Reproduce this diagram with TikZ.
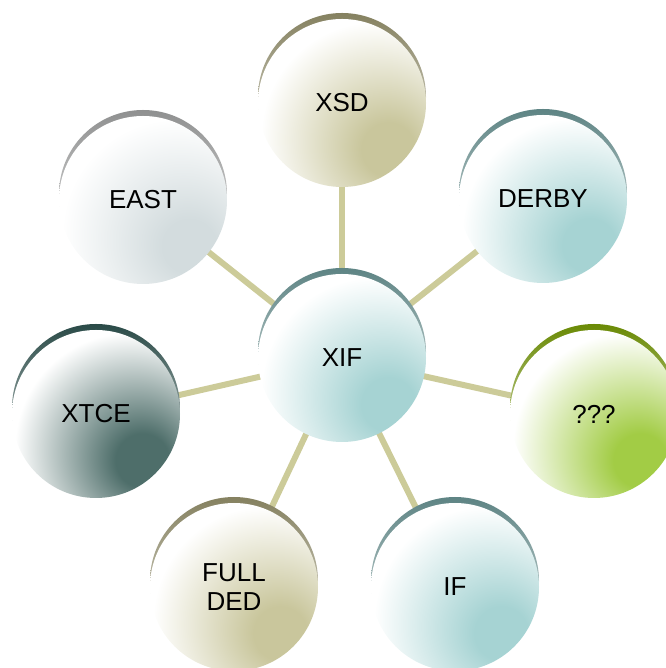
\documentclass[tikz,border=0pt]{standalone}
\usepackage{fontspec}
\setmainfont{Liberation Sans}
\usetikzlibrary{backgrounds}
\definecolor{khaki}{RGB}{201,198,156}
\definecolor{khakidark}{RGB}{133,129,96}
\definecolor{teal}{RGB}{166,211,211}
\definecolor{tealdark}{RGB}{94,132,132}
\definecolor{grayc}{RGB}{211,220,222}
\definecolor{graydark}{RGB}{143,144,144}
\definecolor{slate}{RGB}{78,110,106}
\definecolor{slatedark}{RGB}{42,74,71}
\definecolor{greenc}{RGB}{162,204,69}
\definecolor{greendark}{RGB}{106,138,5}
\definecolor{linkc}{RGB}{204,203,153}
\colorlet{ballcol}{teal}
\pgfdeclareradialshading[ballcol]{ballshade}{\pgfpoint{15bp}{-15bp}}{color(0bp)=(ballcol); color(8bp)=(ballcol); color(34bp)=(white); color(100bp)=(white)}
\tikzset{
  ball/.style={circle, minimum size=168pt, inner sep=0pt, align=center,
    font=\fontsize{26}{29}\selectfont,
    /utils/exec={\colorlet{ballcol}{#1}}, shading=ballshade},
  link/.style={line width=6pt, draw=linkc},
  rim/.style={top color=#1, bottom color=#1!15}
}
\begin{document}
\begin{tikzpicture}[x=1pt,y=1pt]
\useasboundingbox (0,0) rectangle (665,668);
\node[ball=teal] (xif) at (342,310) {XIF};
\node[ball=khaki] (xsd) at (342,565) {XSD};
\node[ball=teal] (derby) at (543,469) {DERBY};
\node[ball=grayc] (east) at (143,468) {EAST};
\node[ball=slate] (xtce) at (96,254) {XTCE};
\node[ball=greenc] (qqq) at (594,254) {???};
\node[ball=khaki] (full) at (234,81) {FULL\\DED};
\node[ball=teal] (if) at (455,81) {IF};
\begin{scope}[on background layer]
  \foreach \n in {xsd,derby,east,xtce,qqq,full,if}
    \draw[link] (xif.center) -- (\n.center);
  \shade[rim=tealdark] ([yshift=6pt]xif.center) circle (84pt);
  \shade[rim=khakidark] ([yshift=6pt]xsd.center) circle (84pt);
  \shade[rim=tealdark] ([yshift=6pt]derby.center) circle (84pt);
  \shade[rim=graydark] ([yshift=6pt]east.center) circle (84pt);
  \shade[rim=slatedark] ([yshift=6pt]xtce.center) circle (84pt);
  \shade[rim=greendark] ([yshift=6pt]qqq.center) circle (84pt);
  \shade[rim=khakidark] ([yshift=6pt]full.center) circle (84pt);
  \shade[rim=tealdark] ([yshift=6pt]if.center) circle (84pt);
\end{scope}
\end{tikzpicture}
\end{document}
